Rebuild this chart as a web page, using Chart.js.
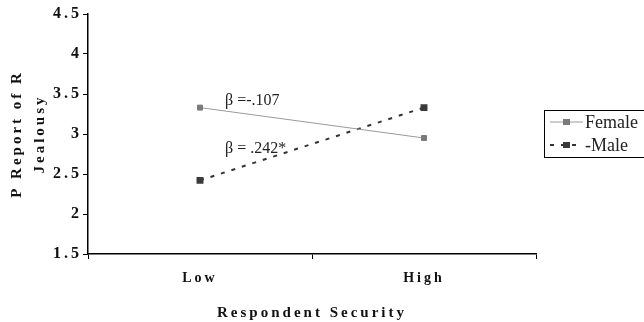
<!DOCTYPE html>
<html>
<head>
<meta charset="utf-8">
<script src="https://cdn.jsdelivr.net/npm/chart.js@4/dist/chart.umd.min.js"></script>
<style>
  html, body { margin: 0; padding: 0; background: #fff; }
  canvas { display: block; }
</style>
</head>
<body>
<canvas id="chart" width="644" height="322"></canvas>
<script>
const categories = ['Low', 'High'];
const femaleValues = [3.33, 2.95];
const maleValues = [2.42, 3.33];
const yTicks = [1.5, 2, 2.5, 3, 3.5, 4, 4.5];
const annotations = ['β =-.107', 'β = .242*'];

const SERIF = '"Liberation Serif", "DejaVu Serif", serif';

// letter spacing for the axis texts only, reset before the lines are drawn
const spacedAxes = {
    id: 'spacedAxes',
    beforeDraw(chart) {
        chart.ctx.letterSpacing = '3px';
    },
    beforeDatasetsDraw(chart) {
        chart.ctx.letterSpacing = '0px';
    },
};

const betaLabels = {
    id: 'betaLabels',
    afterDatasetsDraw(chart) {
        const { ctx, scales } = chart;
        const x0 = scales.x.getPixelForValue(0) + 25;
        const anchors = [3.41, 2.82];
        ctx.save();
        ctx.letterSpacing = '0px';
        ctx.font = '16px ' + SERIF;
        ctx.fillStyle = '#222';
        ctx.textBaseline = 'middle';
        annotations.forEach((txt, i) => {
            ctx.fillText(txt, x0, scales.y.getPixelForValue(anchors[i]));
        });
        ctx.restore();
    },
};

const boxedLegend = {
    id: 'boxedLegend',
    afterDraw(chart) {
        const { ctx } = chart;
        const left = 544, top = 110, rowH = 23;
        ctx.save();
        ctx.letterSpacing = '0px';
        ctx.strokeStyle = '#000';
        ctx.lineWidth = 1;
        ctx.strokeRect(left + 0.5, top + 0.5, 120, 47);
        chart.data.datasets.forEach((ds, i) => {
            const y = top + 12 + i * rowH;
            ctx.save();
            ctx.strokeStyle = ds.borderColor;
            ctx.lineWidth = ds.borderWidth;
            ctx.setLineDash(ds.borderDash || []);
            ctx.beginPath();
            ctx.moveTo(left + 6, y);
            ctx.lineTo(left + 39, y);
            ctx.stroke();
            ctx.restore();
            ctx.fillStyle = ds.pointBackgroundColor;
            ctx.fillRect(left + 19, y - 3, 7, 6);
            ctx.fillStyle = '#222';
            ctx.font = '18px ' + SERIF;
            ctx.textBaseline = 'middle';
            ctx.fillText(ds.label, left + 41, y + 1);
        });
        ctx.restore();
    },
};

new Chart(document.getElementById('chart'), {
    type: 'line',
    data: {
        labels: categories,
        datasets: [
            {
                label: 'Female',
                data: femaleValues,
                borderColor: '#9a9a9a',
                borderWidth: 1,
                pointStyle: 'rect',
                pointRadius: 3.5,
                pointBackgroundColor: '#7a7a7a',
                pointBorderColor: '#7a7a7a',
                tension: 0,
            },
            {
                label: '-Male',
                data: maleValues,
                borderColor: '#333',
                borderWidth: 2,
                borderDash: [4, 7],
                pointStyle: 'rect',
                pointRadius: 3.5,
                pointBackgroundColor: '#3a3a3a',
                pointBorderColor: '#3a3a3a',
                tension: 0,
            },
        ],
    },
    options: {
        responsive: false,
        animation: false,
        events: [],
        layout: { padding: { top: 14, right: 108, left: 0, bottom: 0 } },
        plugins: {
            legend: { display: false },
            tooltip: { enabled: false },
        },
        scales: {
            x: {
                type: 'category',
                offset: true,
                afterFit(scale) { scale.height = 68; },
                border: { display: true, color: '#000', width: 1.5 },
                grid: {
                    offset: true,
                    drawOnChartArea: false,
                    drawTicks: true,
                    tickLength: 5,
                    color: '#000',
                },
                ticks: {
                    color: '#111',
                    padding: 11,
                    font: { family: SERIF, size: 14, weight: 'bold' },
                },
                title: {
                    display: true,
                    text: 'Respondent Security',
                    color: '#111',
                    padding: { top: 0, bottom: 0 },
                    font: { family: SERIF, size: 15, weight: 'bold' },
                },
            },
            y: {
                min: 1.5,
                max: 4.5,
                afterFit(scale) { scale.width = 88; },
                afterBuildTicks(scale) {
                    scale.ticks = yTicks.map((v) => ({ value: v }));
                },
                border: { display: true, color: '#000', width: 1.5 },
                grid: {
                    drawOnChartArea: false,
                    drawTicks: true,
                    tickLength: 5,
                    color: '#000',
                },
                ticks: {
                    color: '#111',
                    padding: 1,
                    font: { family: SERIF, size: 16, weight: 'bold' },
                    callback: (v) => String(v),
                },
                title: {
                    display: true,
                    text: ['P Report of R', 'Jealousy'],
                    color: '#111',
                    padding: { top: 5, bottom: 0 },
                    font: { family: SERIF, size: 15, weight: 'bold', lineHeight: 1.55 },
                },
            },
        },
    },
    plugins: [spacedAxes, betaLabels, boxedLegend],
});
</script>
</body>
</html>
